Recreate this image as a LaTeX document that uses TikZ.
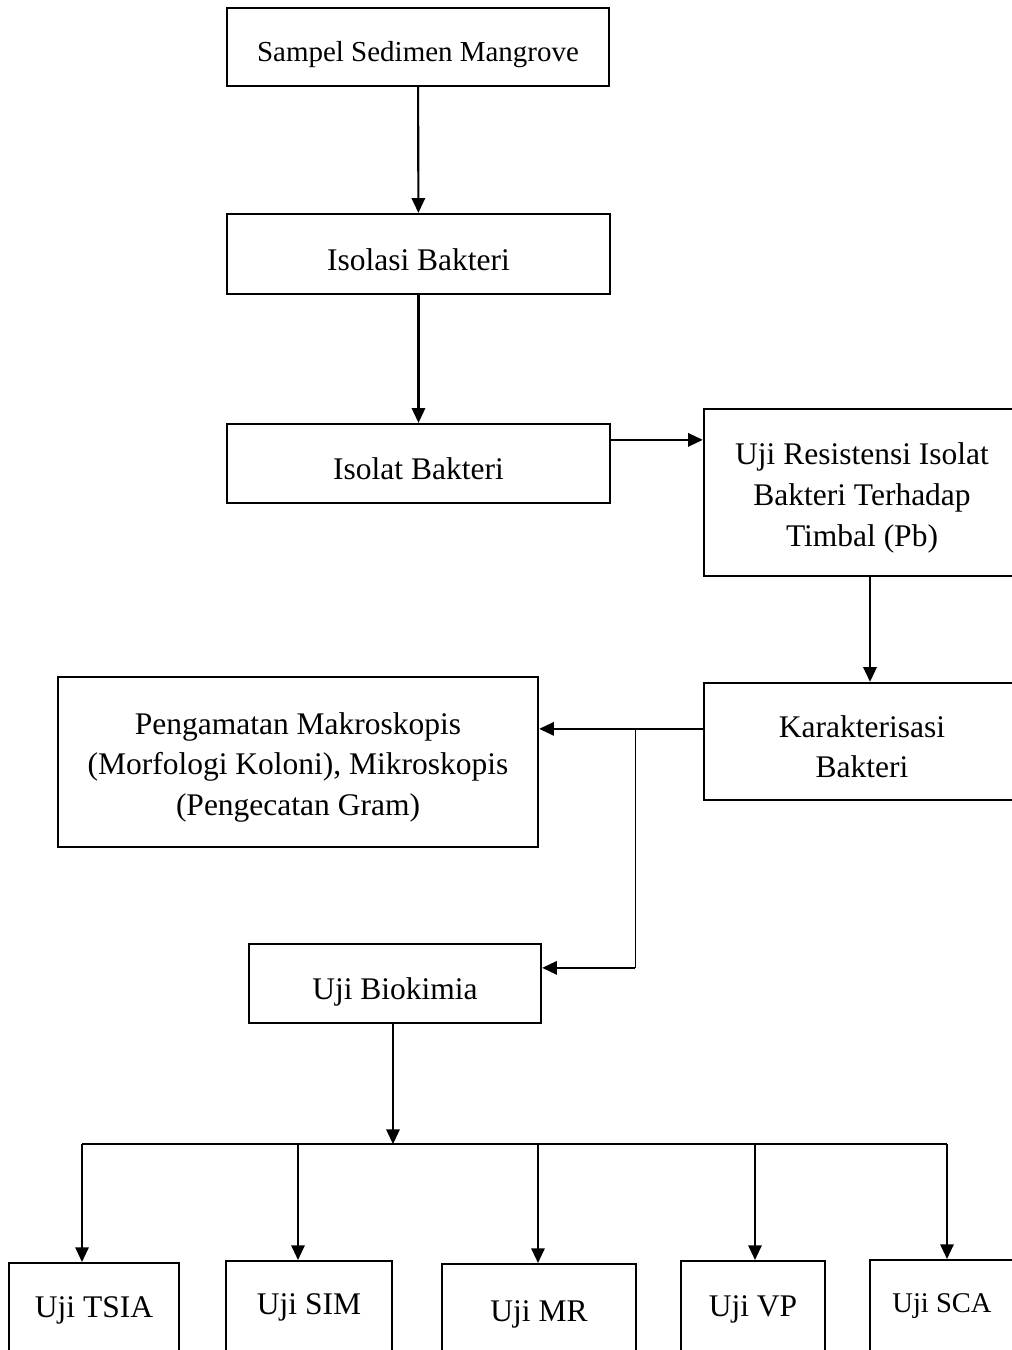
\documentclass[tikz,border=0pt]{standalone}
\usepackage{fontspec}
\setmainfont{Liberation Serif}
\usetikzlibrary{arrows.meta, calc}
\newcommand\upstrut{\rule{0pt}{0.81cm}}

\begin{document}
\begin{tikzpicture}[x=0.025cm, y=-0.025cm,
    box/.style = {draw, line width=1.6pt, inner sep=0pt, align=center,
                  font=\fontsize{22.4}{29}\selectfont},
    onebox/.style = {box, text height=0.82cm, text depth=0pt},
    testbox/.style = {box, anchor=north, text height=#1, text depth=3cm-#1},
    arr/.style = {line width=1.5pt, -{Triangle[length=10.5pt, width=9.5pt]}},
    thinline/.style = {line width=0.7pt},
    busline/.style = {line width=1.1pt}]
    \useasboundingbox (0,0) rectangle (1012,1350);
    \clip (0,0) rectangle (1012,1350);

    % main column
    \node[onebox, text height=0.74cm, font=\fontsize{20.6}{26}\selectfont,
          minimum width=9.55cm, minimum height=1.95cm] (sampel) at (418,47) {Sampel Sedimen Mangrove};
    \node[onebox, minimum width=9.575cm, minimum height=2cm] (isolasi) at (418.5,254) {Isolasi Bakteri};
    \node[onebox, minimum width=9.575cm, minimum height=1.975cm] (isolat) at (418.5,463.5) {Isolat Bakteri};

    % right column
    \node[box, minimum width=7.9cm, minimum height=4.175cm] (resist) at (862,492.5)
        {\upstrut Uji Resistensi Isolat\\Bakteri Terhadap\\Timbal (Pb)};
    \node[box, minimum width=7.9cm, minimum height=2.925cm] (karakter) at (862,741.5)
        {\upstrut Karakterisasi\\Bakteri};

    % characterisation
    \node[box, minimum width=12cm, minimum height=4.25cm] (peng) at (298,762)
        {\upstrut Pengamatan Makroskopis\\(Morfologi Koloni), Mikroskopis\\(Pengecatan Gram)};
    \node[onebox, minimum width=7.3cm, minimum height=1.975cm] (bio) at (395,983.5) {Uji Biokimia};

    % biochemical tests
    \node[testbox=1.37cm, minimum width=4.25cm] (tsia) at (94,1262) {Uji TSIA};
    \node[testbox=1.33cm, minimum width=4.15cm] (sim) at (309,1260) {Uji SIM};
    \node[testbox=1.43cm, minimum width=4.85cm] (mr) at (539,1263) {Uji MR};
    \node[testbox=1.375cm, minimum width=3.6cm] (vp) at (753,1260) {Uji VP};
    \node[testbox=1.32cm, minimum width=3.6cm, font=\fontsize{20.3}{26}\selectfont] (sca) at (942,1259) {Uji SCA};

    % connectors
    \draw[arr] (sampel) -- (isolasi);
    \draw[arr] (isolasi) -- (isolat);
    \coordinate (a1) at ($(isolat.north east)+(0,17)$);
    \draw[arr] (a1) -- (a1 -| resist.west);
    \draw[arr] ($(resist.south)+(8,0)$) -- ($(karakter.north)+(8,0)$);
    \coordinate (k1) at ($(karakter.north west)+(0,47)$);
    \draw[arr] (k1) -- (k1 -| peng.east);
    \coordinate (br) at (635,730);
    \coordinate (b1) at ($(bio.north east)+(0,25)$);
    \draw[thinline] (br) -- (br |- b1);
    \draw[arr] (br |- b1) -- (b1);

    \coordinate (bus) at ($(bio.south)+(-2,120)$);
    \draw[arr] ($(bio.south)+(-2,0)$) -- (bus);
    \foreach \n/\d in {tsia/-12, sim/-11, mr/-1, vp/2, sca/5} {
        \coordinate (d-\n) at ($(\n.north)+(\d,0)$);
        \draw[arr] (d-\n |- bus) -- (d-\n);
    }
    \draw[busline] (d-tsia |- bus) -- (d-sca |- bus);
\end{tikzpicture}
\end{document}
